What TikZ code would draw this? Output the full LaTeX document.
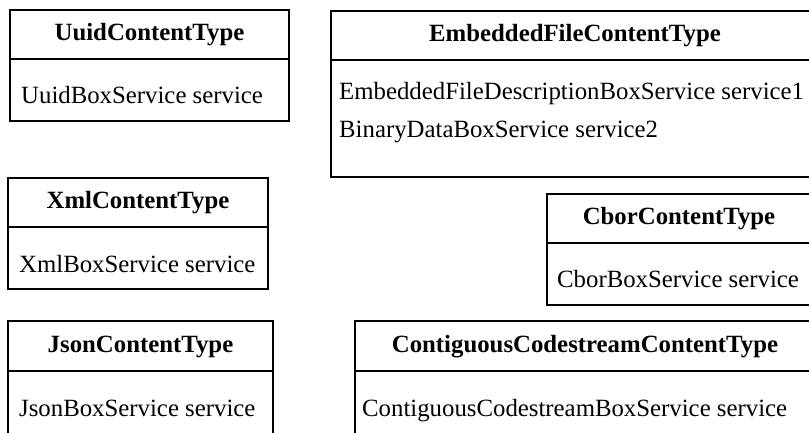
\documentclass[tikz,border=0pt]{standalone}
\usepackage{fontspec}
\setmainfont{Liberation Serif}
\usetikzlibrary{positioning}
\newcommand\umlfont{\fontsize{24.8}{38}\selectfont}
\tikzset{
  classname/.style={draw, line width=1.8pt, outer sep=0pt, inner sep=0pt,
    minimum height=49, text height=17, text depth=5, font=\umlfont\bfseries, anchor=north west},
  classbody/.style={draw, line width=1.8pt, outer sep=0pt, inner sep=0pt},
  member/.style={anchor=base west, inner sep=0pt, font=\umlfont}
}

\begin{document}
\begin{tikzpicture}[x=1pt,y=-1pt]
    \useasboundingbox (0,0) rectangle (809,433);

    % left column
    \node(uuid) [classname, minimum width=279] at (10,10) {UuidContentType};
    \node(uuidb) [classbody, below=0pt of uuid, minimum width=279, minimum height=62] {};
    \node(uuidm) [member] at ([shift={(11,45)}]uuidb.north west) {UuidBoxService service};

    \node(xml) [classname, minimum width=260] at (8,178) {XmlContentType};
    \node(xmlb) [classbody, below=0pt of xml, minimum width=260, minimum height=62] {};
    \node(xmlm) [member] at ([shift={(11,45)}]xmlb.north west) {XmlBoxService service};

    \node(json) [classname, minimum width=265, minimum height=50] at (8,321) {JsonContentType};
    \node(jsonb) [classbody, below=0pt of json, minimum width=265, minimum height=70] {};
    \node(jsonm) [member] at ([shift={(11,45)}]jsonb.north west) {JsonBoxService service};

    % right column
    \node(emb) [classname, minimum width=488] at (331,11) {EmbeddedFileContentType};
    \node(embb) [classbody, below=0pt of emb, minimum width=488, minimum height=117] {};
    \node(embm1) [member] at ([shift={(8,40)}]embb.north west) {EmbeddedFileDescriptionBoxService service1};
    \node(embm2) [member] at ([shift={(8,78)}]embb.north west) {BinaryDataBoxService service2};

    \node(cbor) [classname, minimum width=264] at (547,194) {CborContentType};
    \node(cborb) [classbody, below=0pt of cbor, minimum width=264, minimum height=62] {};
    \node(cborm) [member] at ([shift={(10,44)}]cborb.north west) {CborBoxService service};

    \node(cont) [classname, minimum width=460, minimum height=50] at (355,321) {ContiguousCodestreamContentType};
    \node(contb) [classbody, below=0pt of cont, minimum width=460, minimum height=70] {};
    \node(contm) [member] at ([shift={(7,45)}]contb.north west) {ContiguousCodestreamBoxService service};
\end{tikzpicture}
\end{document}
